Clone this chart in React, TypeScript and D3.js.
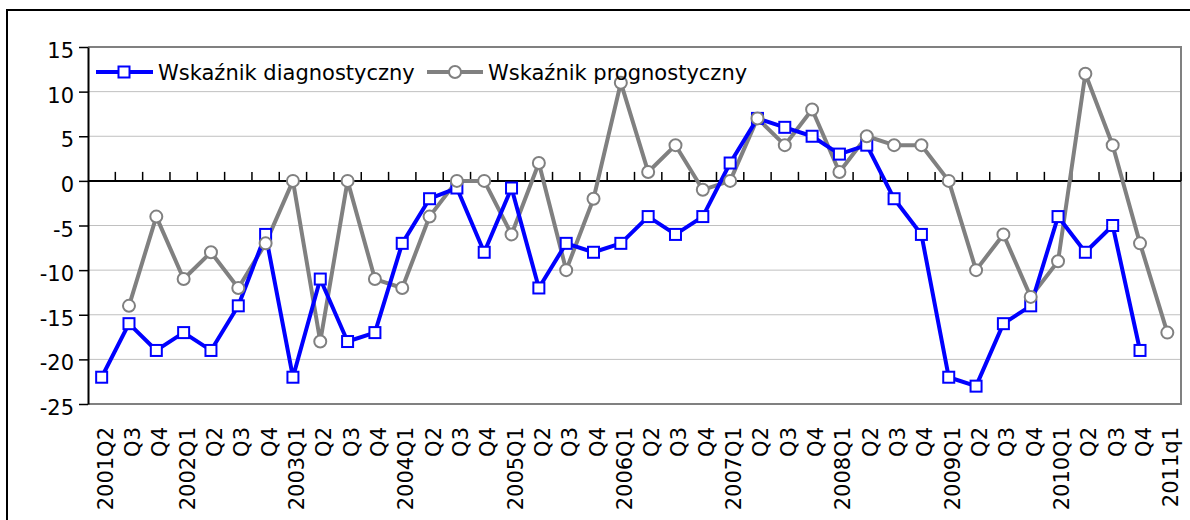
import React, { useEffect, useRef } from 'react';
import * as d3 from 'd3';

const categories = [
  '2001Q2', 'Q3', 'Q4',
  '2002Q1', 'Q2', 'Q3', 'Q4',
  '2003Q1', 'Q2', 'Q3', 'Q4',
  '2004Q1', 'Q2', 'Q3', 'Q4',
  '2005Q1', 'Q2', 'Q3', 'Q4',
  '2006Q1', 'Q2', 'Q3', 'Q4',
  '2007Q1', 'Q2', 'Q3', 'Q4',
  '2008Q1', 'Q2', 'Q3', 'Q4',
  '2009Q1', 'Q2', 'Q3', 'Q4',
  '2010Q1', 'Q2', 'Q3', 'Q4',
  '2011q1',
];

// Wskaźnik diagnostyczny
const diagnostic = [
  -22, -16, -19, -17, -19, -14, -6, -22, -11, -18, -17, -7, -2, -0.8, -8,
  -0.8, -12, -7, -8, -7, -4, -6, -4, 2, 7, 6, 5, 3, 4, -2, -6, -22, -23,
  -16, -14, -4, -8, -5, -19, null,
];

// Wskaźnik prognostyczny
const prognostic = [
  null, -14, -4, -11, -8, -12, -7, 0, -18, 0, -11, -12, -4, 0, 0, -6, 2,
  -10, -2, 11, 1, 4, -1, 0, 7, 4, 8, 1, 5, 4, 4, 0, -10, -6, -13, -9, 12,
  4, -7, -17,
];

const yTicks = [15, 10, 5, 0, -5, -10, -15, -20, -25];

const seriesNames = ['Wskaźnik diagnostyczny', 'Wskaźnik prognostyczny'];

const FONT = '"DejaVu Sans", Verdana, sans-serif';
const FS = 21;

const App = () => {
  const svgRef = useRef(null);

  useEffect(() => {
    const W = 1190;
    const H = 520;
    const left = 88, right = 1181, top = 47, bottom = 404;

    const svg = d3.select(svgRef.current);
    svg.selectAll('*').remove();
    svg.attr('width', W).attr('height', H);

    // outer chart frame
    svg.append('rect')
      .attr('x', 7).attr('y', 10)
      .attr('width', W + 20).attr('height', H + 20)
      .attr('fill', 'white')
      .attr('stroke', 'black')
      .attr('stroke-width', 2);

    const x = d3.scaleBand()
      .domain(d3.range(categories.length).map(String))
      .range([left, right])
      .padding(0);

    const y = d3.scaleLinear()
      .domain([-25, 15])
      .range([bottom, top]);

    const cx = (i) => x(String(i)) + x.bandwidth() / 2;

    // gridlines
    svg.append('g')
      .selectAll('line')
      .data(yTicks.filter(t => t !== 15 && t !== -25 && t !== 0))
      .enter().append('line')
      .attr('x1', left).attr('x2', right)
      .attr('y1', d => y(d)).attr('y2', d => y(d))
      .attr('stroke', '#c0c0c0')
      .attr('stroke-width', 1);

    // plot border (top, right, bottom)
    svg.append('path')
      .attr('d', `M${left},${top}H${right}V${bottom}H${left}`)
      .attr('fill', 'none')
      .attr('stroke', '#808080')
      .attr('stroke-width', 2);

    // y axis
    const yAxis = svg.append('g')
      .attr('transform', `translate(${left},0)`)
      .call(d3.axisLeft(y).tickValues(yTicks).tickFormat(d => String(d))
        .tickSize(9).tickSizeOuter(0).tickPadding(5));
    yAxis.select('.domain').attr('stroke', 'black').attr('stroke-width', 2);
    yAxis.selectAll('.tick line').attr('stroke', 'black').attr('stroke-width', 1.5);
    yAxis.selectAll('.tick text')
      .attr('font-family', FONT)
      .attr('font-size', FS)
      .attr('fill', 'black')
      .attr('dy', '0.5em');

    // x axis at zero with upward tick marks on category boundaries
    svg.append('line')
      .attr('x1', left).attr('x2', right)
      .attr('y1', y(0)).attr('y2', y(0))
      .attr('stroke', 'black')
      .attr('stroke-width', 2);

    svg.append('g')
      .selectAll('line')
      .data(d3.range(1, categories.length + 1))
      .enter().append('line')
      .attr('x1', d => left + d * x.bandwidth())
      .attr('x2', d => left + d * x.bandwidth())
      .attr('y1', y(0) - 9).attr('y2', y(0))
      .attr('stroke', 'black')
      .attr('stroke-width', 1.5);

    // category labels
    svg.append('g')
      .selectAll('text')
      .data(categories)
      .enter().append('text')
      .attr('transform', (d, i) => `translate(${cx(i) + 11},${bottom + 23}) rotate(-90)`)
      .attr('text-anchor', 'end')
      .attr('font-family', FONT)
      .attr('font-size', FS)
      .attr('fill', 'black')
      .text(d => d);

    const line = d3.line()
      .defined(d => d.v !== null)
      .x(d => cx(d.i))
      .y(d => y(d.v));

    const progData = prognostic.map((v, i) => ({ i, v }));
    const diagData = diagnostic.map((v, i) => ({ i, v }));

    // prognostic (gray, circles)
    svg.append('path')
      .datum(progData)
      .attr('d', line)
      .attr('fill', 'none')
      .attr('stroke', '#808080')
      .attr('stroke-width', 4)
      .attr('stroke-linejoin', 'round');

    // diagnostic (blue, squares)
    svg.append('path')
      .datum(diagData)
      .attr('d', line)
      .attr('fill', 'none')
      .attr('stroke', '#0000ff')
      .attr('stroke-width', 4)
      .attr('stroke-linejoin', 'round');

    svg.append('g')
      .selectAll('rect')
      .data(diagData.filter(d => d.v !== null))
      .enter().append('rect')
      .attr('x', d => cx(d.i) - 5.5)
      .attr('y', d => y(d.v) - 5.5)
      .attr('width', 11).attr('height', 11)
      .attr('fill', 'white')
      .attr('stroke', '#0000ff')
      .attr('stroke-width', 2);

    svg.append('g')
      .selectAll('circle')
      .data(progData.filter(d => d.v !== null))
      .enter().append('circle')
      .attr('cx', d => cx(d.i))
      .attr('cy', d => y(d.v))
      .attr('r', 6)
      .attr('fill', 'white')
      .attr('stroke', '#808080')
      .attr('stroke-width', 2);

    // legend
    const ly = 72;
    const lg = svg.append('g');
    lg.append('line')
      .attr('x1', 96).attr('x2', 153).attr('y1', ly).attr('y2', ly)
      .attr('stroke', '#0000ff').attr('stroke-width', 4);
    lg.append('rect')
      .attr('x', 124 - 5.5).attr('y', ly - 5.5)
      .attr('width', 11).attr('height', 11)
      .attr('fill', 'white').attr('stroke', '#0000ff').attr('stroke-width', 2);
    lg.append('text')
      .attr('x', 158).attr('y', ly + 7.5)
      .attr('font-family', FONT).attr('font-size', FS).attr('fill', 'black')
      .text(seriesNames[0]);

    lg.append('line')
      .attr('x1', 427).attr('x2', 483).attr('y1', ly).attr('y2', ly)
      .attr('stroke', '#808080').attr('stroke-width', 4);
    lg.append('circle')
      .attr('cx', 455).attr('cy', ly).attr('r', 6)
      .attr('fill', 'white').attr('stroke', '#808080').attr('stroke-width', 2);
    lg.append('text')
      .attr('x', 488).attr('y', ly + 7.5)
      .attr('font-family', FONT).attr('font-size', FS).attr('fill', 'black')
      .text(seriesNames[1]);
  }, []);

  return (
    <svg ref={svgRef} style={{ position: 'absolute', left: 0, top: 0, display: 'block' }}></svg>
  );
};

export default App;
